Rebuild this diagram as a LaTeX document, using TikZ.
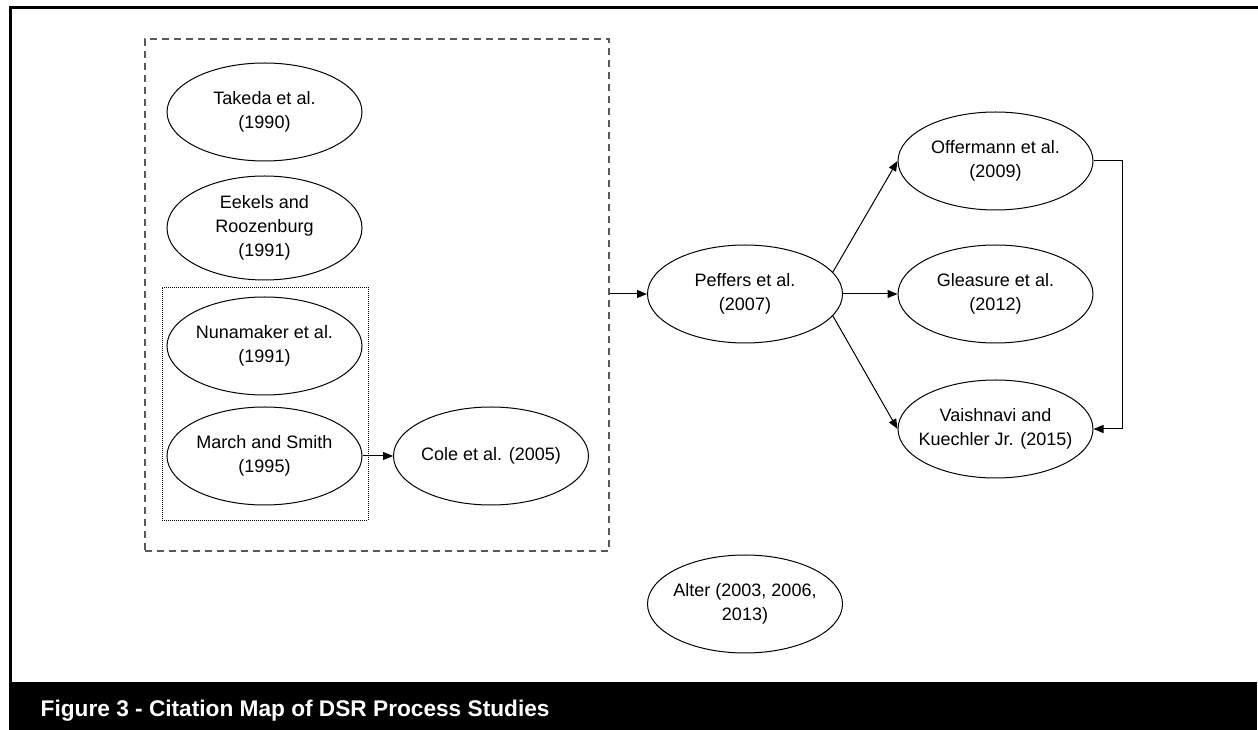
\documentclass[tikz,border=0pt]{standalone}
\usepackage{fontspec}
\setmainfont{Liberation Sans}
\usetikzlibrary{shapes.geometric,arrows.meta}
\begin{document}
\begin{tikzpicture}[x=0.75pt,y=-0.75pt,
  study/.style={draw=black, line width=0.75pt, ellipse, minimum width=146.25pt,
    minimum height=73.5pt, inner sep=0pt},
  txt/.style={font=\fontsize{13.5}{18}\selectfont, align=center, inner sep=0pt},
  link/.style={draw=black, line width=0.75pt, -{Triangle[length=7.5pt,width=6pt]}},
  groupbox/.style={draw=black!65, line width=1.1pt, dash pattern=on 5.5pt off 3.5pt,
    inner sep=0pt},
  subbox/.style={draw=black, line width=0.6pt, dash pattern=on 0.75pt off 0.75pt,
    inner sep=0pt}]
\useasboundingbox (0,0) rectangle (1258,730);

% outer frame and caption bar
\draw[line width=2.25pt] (1258,8) -- (10,8) -- (10,684);
\node[fill=black, minimum width=936pt, minimum height=36pt, inner sep=0pt, anchor=north west]
  (bar) at (9,682) {};
\node[anchor=base west, text=white, font=\fontsize{17}{20}\bfseries]
  (caption) at (36,717) {Figure 3 - Citation Map of DSR Process Studies};

% grouping boxes
\node[groupbox, minimum width=348pt, minimum height=384pt] (grp) at (377,295) {};
\node[subbox, minimum width=154.5pt, minimum height=174.75pt] (sub) at (265,403.5) {};

% studies
\node[study, label={[txt]center:Takeda et al.\\(1990)}] (takeda) at (264.5,112) {};
\node[study, minimum height=78pt, label={[txt]center:Eekels and\\Roozenburg\\(1991)}] (eekels) at (264.5,228) {};
\node[study, label={[txt]center:Nunamaker et al.\\(1991)}] (nuna) at (264.5,346) {};
\node[study, label={[txt]center:March and Smith\\(1995)}] (march) at (264.5,456) {};
\node[study, label={[txt]center:Cole et al. (2005)}] (cole) at (491,456) {};
\node[study, label={[txt]center:Peffers et al.\\(2007)}] (peffers) at (745,294) {};
\node[study, label={[txt]center:Offermann et al.\\(2009)}] (offer) at (995.5,161) {};
\node[study, label={[txt]center:Gleasure et al.\\(2012)}] (gleas) at (995.5,294) {};
\node[study, label={[txt]center:Vaishnavi and\\Kuechler Jr. (2015)}] (vaish) at (995.5,429) {};
\node[study, label={[txt]center:Alter (2003, 2006,\\2013)}] (alter) at (745,604) {};

% citation links
\draw[link] (march.east) -- (cole.west);
\draw[link] (grp.east |- peffers.west) -- (peffers.west);
\draw[link] (peffers.14) -- (offer.west);
\draw[link] (peffers.east) -- (gleas.west);
\draw[link] (peffers.-14) -- (vaish.west);
\coordinate (bend1) at (1122,161);
\coordinate (bend2) at (1122,429);
\draw[link] (offer.east) -- (bend1) -- (bend2) -- (vaish.east);
\end{tikzpicture}
\end{document}
